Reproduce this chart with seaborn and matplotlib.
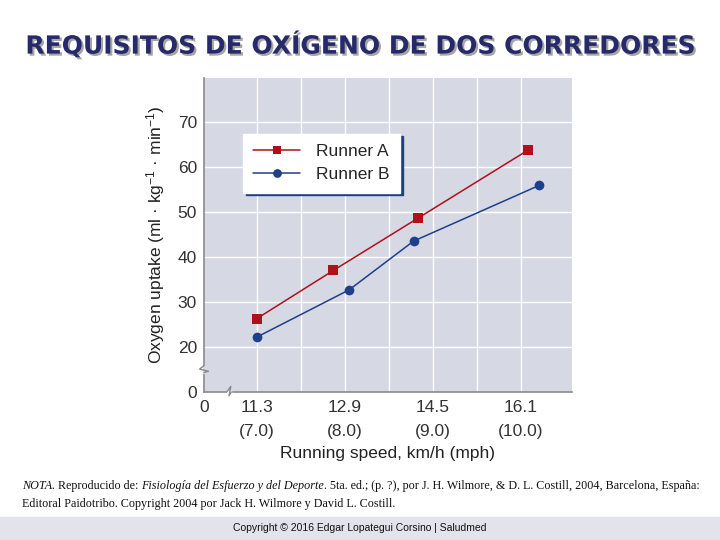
import numpy as np
import pandas as pd
import matplotlib
matplotlib.use("Agg")
import matplotlib.pyplot as plt
import matplotlib.patheffects as pe
from matplotlib.patches import Rectangle
import seaborn as sns

# data (x in mph, y in ml/kg/min)
runner_a_x = [7.0, 7.87, 8.83, 10.08]
runner_a_y = [26.3, 37.0, 48.6, 63.7]
runner_b_x = [7.0, 8.05, 8.78, 10.21]
runner_b_y = [22.2, 32.7, 43.5, 55.9]
series = ["Runner A", "Runner B"]

x_ticks = [7, 8, 9, 10]
x_labels = ["11.3\n(7.0)", "12.9\n(8.0)", "14.5\n(9.0)", "16.1\n(10.0)"]
y_ticks = [20, 30, 40, 50, 60, 70]

df = pd.DataFrame({
    "speed": runner_a_x + runner_b_x,
    "o2": runner_a_y + runner_b_y,
    "runner": [series[0]] * 4 + [series[1]] * 4,
})

sns.set_style("white")
plt.rcParams["font.family"] = ["Liberation Sans", "DejaVu Sans"]
plt.rcParams["mathtext.default"] = "regular"

fig = plt.figure(figsize=(7.2, 5.4), dpi=100)
ax = fig.add_axes([0.2833, 0.274, 0.5111, 0.5822])
bg = "#d6d8e4"
ax.set_facecolor(bg)

red = "#b01019"
blue = "#1e3f8a"
sns.lineplot(data=df, x="speed", y="o2", hue="runner", style="runner",
             markers={"Runner A": "s", "Runner B": "o"}, dashes=False,
             palette={"Runner A": red, "Runner B": blue}, sort=False,
             markersize=7, linewidth=1.1, markeredgewidth=0, ax=ax)

ax.set_xlim(6.4, 10.58)
ax.set_ylim(10, 79.8)
ax.set_xticks([6.4] + x_ticks)
ax.set_xticklabels(["0"] + x_labels, linespacing=1.7)
ax.set_xticks([7.5, 8.5, 9.5], minor=True)
ax.set_yticks([10] + y_ticks)
ax.set_yticklabels(["0"] + [str(v) for v in y_ticks])
ax.tick_params(axis="both", which="both", length=0, labelsize=12.5,
               labelcolor="#333333")
ax.tick_params(axis="x", pad=6)
ax.tick_params(axis="y", pad=5)
ax.grid(True, which="both", color="white", linewidth=1)
ax.grid(False, axis="y", which="minor")
ax.get_ygridlines()[0].set_visible(False)
ax.get_xgridlines()[0].set_visible(False)

for s in ["top", "right"]:
    ax.spines[s].set_visible(False)
for s in ["left", "bottom"]:
    ax.spines[s].set_color("#8a8a8a")
    ax.spines[s].set_linewidth(1.2)

# axis break marks
gray = "#8a8a8a"
ax.add_patch(Rectangle((-0.004, 0.062), 0.008, 0.022, transform=ax.transAxes,
                       color=bg, clip_on=False, zorder=5))
ax.plot([0.0, -0.012, 0.012, 0.0], [0.084, 0.073, 0.066, 0.062],
        transform=ax.transAxes, color=gray, lw=1, clip_on=False, zorder=6)
ax.add_patch(Rectangle((0.062, -0.004), 0.012, 0.008, transform=ax.transAxes,
                       color="white", clip_on=False, zorder=5))
ax.plot([0.062, 0.073, 0.068, 0.074], [0.0, 0.018, -0.012, 0.0],
        transform=ax.transAxes, color=gray, lw=1, clip_on=False, zorder=6)

ax.set_xlabel("Running speed, km/h (mph)", fontsize=12.5, color="#222222",
              labelpad=5)
ax.set_ylabel("Oxygen uptake (ml · kg$^{-1}$ · min$^{-1}$)", fontsize=12.5,
              color="#222222", labelpad=8)

h, l = ax.get_legend_handles_labels()
leg = ax.legend(h, l, loc="upper left", bbox_to_anchor=(0.106, 0.822),
                borderaxespad=0, frameon=True, fancybox=False,
                facecolor="white", edgecolor="white", framealpha=1,
                shadow={"color": blue, "alpha": 1}, fontsize=12.5,
                handlelength=2.7, borderpad=0.6, labelspacing=0.45,
                handletextpad=0.9, markerscale=0.9)

# title
fig.text(0.5, 0.916, "REQUISITOS DE OXÍGENO DE DOS CORREDORES", ha="center",
         va="center", fontsize=18, fontweight="bold", color="#262a6b",
         family=["DejaVu Sans"],
         path_effects=[pe.withSimplePatchShadow(offset=(1.5, -1.5),
                                                shadow_rgbFace="#808080",
                                                alpha=0.7)])

# note, mixed italic
fs = 8.7
def chain(parts, x, y):
    t = fig.text(x, y, parts[0][0], style=parts[0][1], fontsize=fs,
                 family=["Liberation Serif"], va="bottom", color="#111111")
    for txt, st in parts[1:]:
        t = ax.annotate(txt, xy=(1, 0), xycoords=t, va="bottom", style=st,
                        fontsize=fs, family=["Liberation Serif"],
                        color="#111111", annotation_clip=False)

chain([("NOTA.", "italic"), (" Reproducido de: ", "normal"),
       ("Fisiología del Esfuerzo y del Deporte", "italic"),
       (". 5ta. ed.; (p. ?), por J. H. Wilmore, & D. L. Costill, 2004, Barcelona, España:",
        "normal")], 0.030, 0.088)
chain([("Editoral Paidotribo. Copyright 2004 por Jack H. Wilmore y David L. Costill.",
        "normal")], 0.030, 0.056)

# footer band
fig.patches.append(Rectangle((0, 0), 1, 0.043, transform=fig.transFigure,
                             color="#e2e3eb", zorder=0))
fig.text(0.5, 0.022, "Copyright © 2016 Edgar Lopategui Corsino | Saludmed",
         ha="center", va="center", fontsize=7.5, color="#111111")

fig.savefig("out.png", dpi=100)
